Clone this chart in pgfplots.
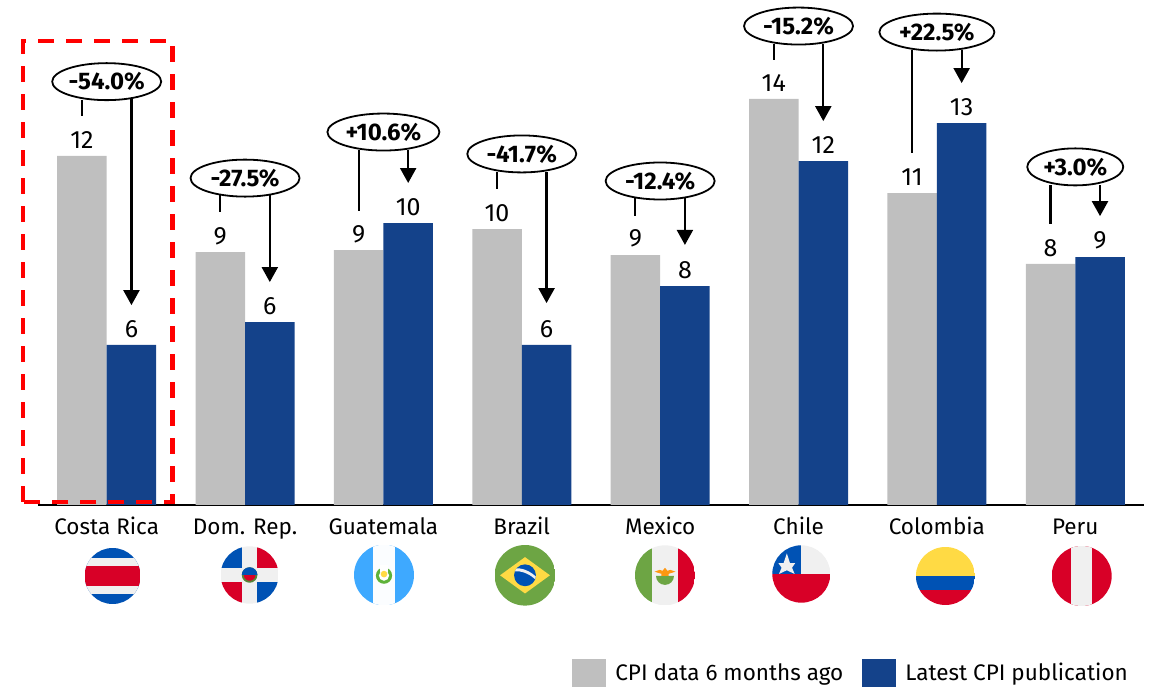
\documentclass[border=0pt]{standalone}
\usepackage{fontspec}
\setmainfont{Fira Sans}
\usepackage{pgfplots}
\pgfplotsset{compat=1.18}
\usetikzlibrary{arrows.meta,shapes.geometric}
\definecolor{prior}{HTML}{BFBFBF}
\definecolor{latest}{HTML}{14428A}
\definecolor{fr}{HTML}{D80027}
\definecolor{fb}{HTML}{0052B4}
\definecolor{fw}{HTML}{F0F0F0}
\definecolor{fy}{HTML}{FFDA44}
\definecolor{fg}{HTML}{6DA544}
\definecolor{fl}{HTML}{3EA9FF}
\definecolor{fo}{HTML}{FF9811}
\newcommand{\labelfont}{\fontsize{22.5}{26}\selectfont}
\newcommand{\valuefont}{\fontsize{25}{28}\selectfont}
\newcommand{\pctfont}{\fontsize{24}{27}\selectfont\bfseries}
% one round flag, centred at x,y measured from the top left of the page
\newcommand{\flag}[5]{%
  \begin{scope}[shift={(#1pt,692pt-#2pt)},x=1pt,y=1pt,xscale=#3,yscale=#4]
    \clip (0,0) circle (1pt);
    #5
  \end{scope}}
% connector from a bubble down to the earlier figure and arrow to the latest one
\newcommand{\bridge}[5]{%
  \addplot[forget plot,sharp plot,black,line width=2.2pt] coordinates {(#1-0.179,#2) (#1-0.179,#3)};
  \addplot[forget plot,sharp plot,black,line width=2.2pt,-{Triangle[length=15pt,width=16pt]}] coordinates {(#1+0.179,#4) (#1+0.179,#5)};}
\newcommand{\bubble}[4]{%
  \node[ellipse,draw=black,line width=1.8pt,fill=white,inner sep=0pt,minimum width=#4pt,minimum height=37pt,font=\pctfont] at (axis cs:#1,#2) {#3};}
\pgfplotsset{
  barseries/.style={ybar,bar width=49.5pt,draw=none,bar shift=#1,
    nodes near coords,point meta=y,
    every node near coord/.append style={font=\valuefont,black,anchor=south,xshift=#1,yshift=4pt},
    nodes near coords style={/pgf/number format/.cd,fixed,precision=0,assume math mode=true}},
}
\begin{document}
\begin{tikzpicture}[x=1pt,y=1pt]
\useasboundingbox (0,0) rectangle (1155,692);
\begin{axis}[
  at={(37.5pt,187pt)}, anchor=south west,
  scale only axis, width=1107pt, height=505pt,
  xmin=-0.5, xmax=7.5, ymin=0, ymax=17.535,
  axis y line=none, axis x line=bottom,
  axis line style={black,line width=2.2pt,-},
  clip=false,
  xtick={0,...,7},
  xticklabels={Costa Rica,Dom. Rep.,Guatemala,Brazil,Mexico,Chile,Colombia,Peru},
  xtick style={draw=none},
  xticklabel style={font=\labelfont,anchor=base,yshift=-27pt},
  legend columns=2,
  legend style={at={(1137pt-37.5pt,505pt-692pt+5pt)},anchor=south east,draw=none,fill=none,font=\labelfont,
    /tikz/every even column/.append style={column sep=10pt},inner sep=0pt,nodes={inner xsep=9pt}},
]
\addplot[barseries=-24.75pt,fill=prior,
  legend image code/.code={\fill[prior] (0pt,-14pt) rectangle (34pt,14pt);}]
  coordinates {(0,12.12) (1,8.78) (2,8.85) (3,9.58) (4,8.68) (5,14.10) (6,10.83) (7,8.37)};
\addlegendentry{CPI data 6 months ago}
\addplot[barseries=24.75pt,fill=latest,
  legend image code/.code={\fill[latest] (0pt,-14pt) rectangle (34pt,14pt);}]
  coordinates {(0,5.56) (1,6.35) (2,9.79) (3,5.56) (4,7.60) (5,11.94) (6,13.26) (7,8.61)};
\addlegendentry{Latest CPI publication}
\bridge{0}{14.06}{13.51}{14.10}{6.94}
\bridge{1}{10.76}{10.17}{10.76}{7.74}
\bridge{2}{12.33}{10.21}{12.33}{11.18}
\bridge{3}{11.56}{10.97}{11.56}{7.01}
\bridge{4}{10.66}{10.03}{10.66}{9.03}
\bridge{5}{16.01}{15.45}{16.01}{13.33}
\bridge{6}{15.80}{12.22}{15.80}{14.65}
\bridge{7}{11.11}{9.76}{11.11}{10.03}
\bubble{0}{14.70}{-54.0\%}{109}
\bubble{1}{11.35}{-27.5\%}{109}
\bubble{2}{12.95}{+10.6\%}{112}
\bubble{3}{12.19}{-41.7\%}{109}
\bubble{4}{11.25}{-12.4\%}{109}
\bubble{5}{16.63}{-15.2\%}{109}
\bubble{6}{16.42}{+22.5\%}{115}
\bubble{7}{11.74}{+3.0\%}{96}
\end{axis}
% highlight around the first country
\draw[red,line width=4.5pt,dash pattern=on 16pt off 12pt] (23,692-502) -- (23,692-41) -- (172.7,692-41) -- (172.7,692-502) -- cycle;
% Costa Rica
\flag{112.6}{576}{28}{28}{\fill[fb] (-1,-1) rectangle (1,1);\fill[fw] (-1,-.65) rectangle (1,.63);\fill[fr] (-1,-.37) rectangle (1,.34);}
% Dominican Republic
\flag{249.6}{575}{29}{28.7}{\fill[fw] (-1,-1) rectangle (1,1);
  \fill[fb] (-1,.24) rectangle (-.27,1);\fill[fr] (.27,.24) rectangle (1,1);
  \fill[fr] (-1,-1) rectangle (-.27,-.24);\fill[fb] (.27,-1) rectangle (1,-.24);
  \fill[fg!80!black] (0,0) circle (.27pt);\fill[fr] (0,0) circle (.2pt);
  \begin{scope}\clip (-1,0) rectangle (1,1);\fill[fb] (0,0) circle (.27pt);\end{scope}}
% Guatemala
\flag{384}{575}{30}{30.3}{\fill[fl] (-1,-1) rectangle (1,1);\fill[white!98!fl] (-.36,-1) rectangle (.36,1);
  \fill[fg!85!green] (0,-.02) circle (.27pt);\fill[white] (0,-.02) circle (.17pt);\fill[white] (-.14,.1) rectangle (.14,.32);\fill[fy] (0,.03) circle (.11pt);}
% Brazil
\flag{525}{575.3}{30.4}{30.3}{\fill[fg] (-1,-1) rectangle (1,1);\fill[fy] (-.82,0) -- (0,.6) -- (.82,0) -- (0,-.6) -- cycle;
  \fill[fb] (0,0) circle (.36pt);
  \begin{scope}\clip (0,0) circle (.36pt);\fill[fw] (-.4,.12) .. controls (-.1,.18) and (.2,.02) .. (.4,-.2) -- (.4,-.08) .. controls (.2,.12) and (-.1,.28) .. (-.4,.22) -- cycle;\end{scope}}
% Mexico
\flag{665}{575.3}{30}{30}{\fill[fw] (-1,-1) rectangle (1,1);\fill[fg] (-1,-1) rectangle (-.43,1);\fill[fr] (.43,-1) rectangle (1,1);
  \fill[fg] (-.3,-.02) arc[start angle=180,end angle=360,radius=.3pt] -- cycle;
  \fill[fo] (-.35,.12) -- (-.12,.05) -- (-.12,-.02) -- (.12,-.02) -- (.12,.05) -- (.35,.12) -- (.18,.18) -- (.08,.15) -- (0,.25) -- (-.08,.15) -- (-.18,.18) -- cycle;}
% Chile
\flag{801.3}{574}{29}{28.7}{\fill[fw] (-1,0) rectangle (1,1);\fill[fr] (-1,-1) rectangle (1,0);\fill[fb] (-1,0) rectangle (0,1);
  \fill[fw] (-.5,.72) -- (-.39,.38) -- (-.21,.38) -- (-.32,.22) -- (-.23,.0) -- (-.5,.13) -- (-.77,.0) -- (-.68,.22) -- (-.79,.38) -- (-.61,.38) -- cycle;}
% Colombia
\flag{945.4}{576}{29.5}{29}{\fill[fy] (-1,0) rectangle (1,1);\fill[fb] (-1,-.5) rectangle (1,0);\fill[fr] (-1,-1) rectangle (1,-.5);}
% Peru
\flag{1081.7}{576}{30}{30}{\fill[fr] (-1,-1) rectangle (1,1);\fill[fw] (-.35,-1) rectangle (.35,1);}
\end{tikzpicture}
\end{document}
